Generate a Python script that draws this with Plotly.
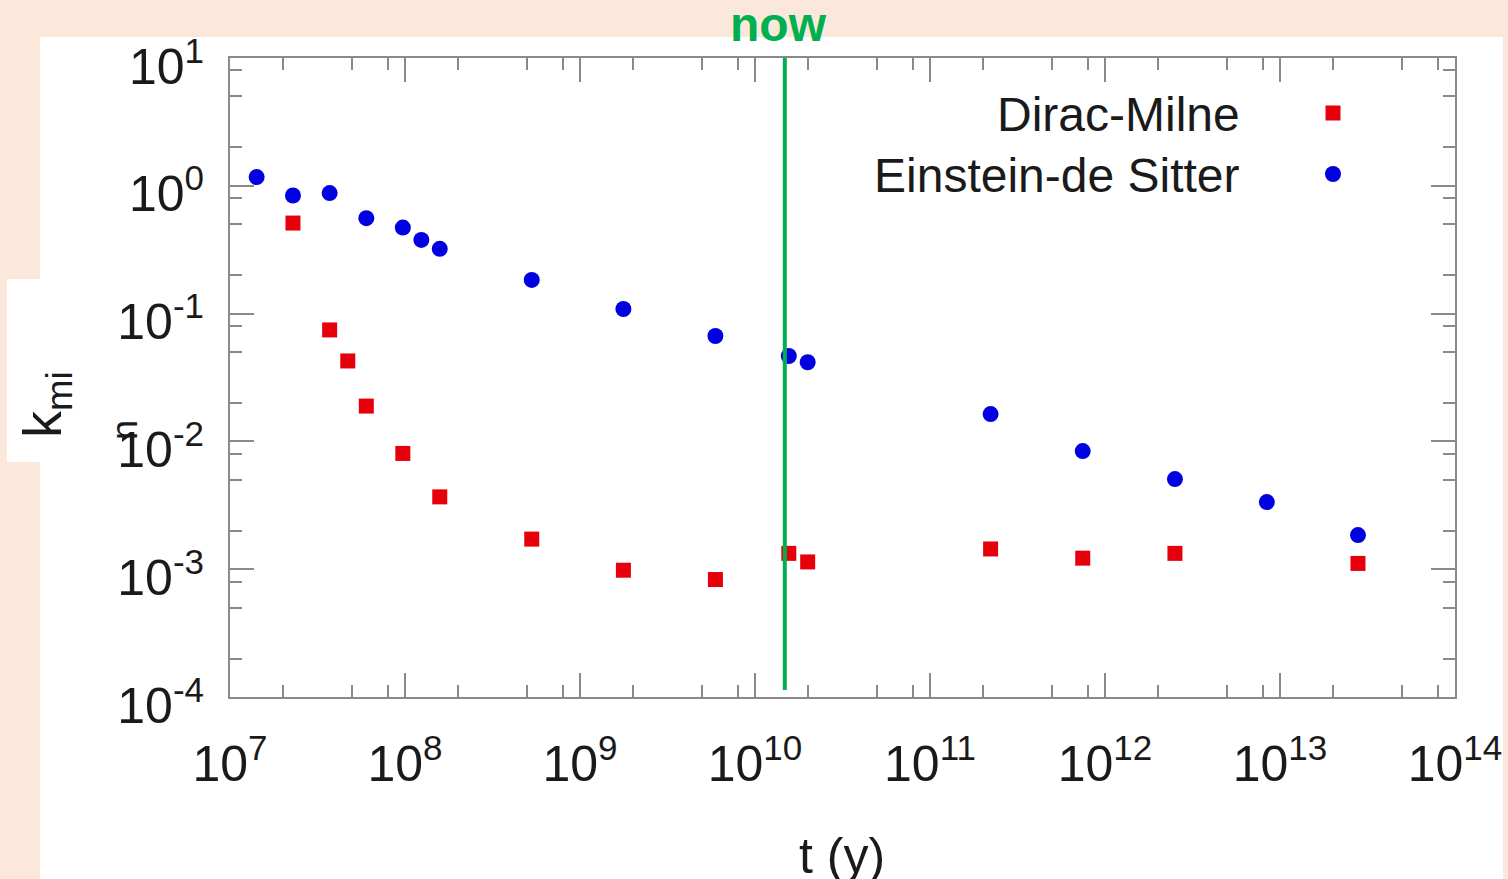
import numpy as np
import plotly.graph_objects as go

# ---------------- data ----------------
eds_t = [1.42e7, 2.29e7, 3.71e7, 6.01e7, 9.72e7, 1.24e8, 1.58e8, 5.30e8, 1.77e9,
         5.94e9, 1.56e10, 2.00e10, 2.22e11, 7.46e11, 2.51e12, 8.41e12, 2.79e13]
eds_k = [1.17, 0.84, 0.877, 0.558, 0.471, 0.377, 0.321, 0.1836, 0.1087,
         0.0668, 0.0466, 0.0416, 0.01637, 0.00840, 0.00507, 0.00335, 0.00185]

dm_t = [2.29e7, 3.71e7, 4.71e7, 6.01e7, 9.72e7, 1.58e8, 5.30e8, 1.77e9,
        5.94e9, 1.56e10, 2.00e10, 2.22e11, 7.46e11, 2.51e12, 2.79e13]
dm_k = [0.511, 0.0745, 0.0426, 0.0189, 0.00805, 0.00368, 0.00172, 0.000982,
        0.000830, 0.00133, 0.00114, 0.00144, 0.00122, 0.00133, 0.00111]

now_t = 1.48e10

x_exponents = [7, 8, 9, 10, 11, 12, 13, 14]
y_exponents = [-4, -3, -2, -1, 0, 1]
minor_mult = [2, 5, 8]

series_names = ["Dirac-Milne", "Einstein-de Sitter"]

# ---------------- styling ----------------
PEACH = "#FCE8DA"
RED = "#E6000B"
BLUE = "#0000E0"
GREEN = "#00B050"
AXIS = "#8a8a8a"
TXT = "#1a1a1a"
FONT = "Liberation Sans, Arial, sans-serif"

x_tickvals = [10.0 ** e for e in x_exponents]
x_ticktext = [f"10<sup>{e}</sup>" for e in x_exponents]
y_tickvals = [10.0 ** e for e in y_exponents]
y_ticktext = [f"10<sup>{e}</sup>" for e in y_exponents]
x_minor = [m * 10.0 ** e for e in x_exponents[:-1] for m in minor_mult]
y_minor = [m * 10.0 ** e for e in y_exponents[:-1] for m in minor_mult]

fig = go.Figure()
fig.add_trace(go.Scatter(x=dm_t, y=dm_k, mode="markers", name=series_names[0],
                         marker=dict(symbol="square", size=15, color=RED,
                                     line=dict(width=0)),
                         showlegend=False))
fig.add_trace(go.Scatter(x=eds_t, y=eds_k, mode="markers", name=series_names[1],
                         marker=dict(symbol="circle", size=16, color=BLUE,
                                     line=dict(width=0)),
                         showlegend=False))

axis_common = dict(type="log", showline=True, linecolor=AXIS, linewidth=2,
                   mirror="ticks", ticks="inside", ticklen=24, tickwidth=2,
                   tickcolor=AXIS, showgrid=False, zeroline=False, automargin=False,
                   tickfont=dict(family=FONT, size=50, color=TXT))

fig.update_xaxes(range=[7, 14], tickvals=x_tickvals, ticktext=x_ticktext,
                 ticklabelstandoff=22,
                 minor=dict(tickvals=x_minor, ticks="inside", ticklen=12,
                            tickwidth=2, tickcolor=AXIS, showgrid=False),
                 **axis_common)
fig.update_yaxes(range=[-4, 1], tickvals=y_tickvals, ticktext=y_ticktext,
                 ticklabelstandoff=14, ticklabelshift=8,
                 minor=dict(tickvals=y_minor, ticks="inside", ticklen=12,
                            tickwidth=2, tickcolor=AXIS, showgrid=False),
                 **axis_common)

W, H = 1508, 879
L, R, T, B = 230, 53, 58, 182
pw, ph = W - L - R, H - T - B


def px(xp):
    return (xp - L) / pw


def py(yp):
    return 1 - (yp - T) / ph


shapes = [
    # white panels on the peach background
    dict(type="rect", xref="paper", yref="paper", x0=px(40), x1=px(1503),
         y0=py(880), y1=py(37), fillcolor="white", line=dict(width=0), layer="below"),
    dict(type="rect", xref="paper", yref="paper", x0=px(7), x1=px(41),
         y0=py(462), y1=py(279), fillcolor="white", line=dict(width=0), layer="below"),
    # "now" line
    dict(type="line", xref="x", yref="paper", x0=now_t, x1=now_t,
         y0=py(690), y1=1, line=dict(color=GREEN, width=4), layer="above"),
    # legend keys
    dict(type="rect", xref="paper", yref="paper", xsizemode="pixel", ysizemode="pixel",
         xanchor=px(1333), yanchor=py(113), x0=-7.5, x1=7.5, y0=-7.5, y1=7.5,
         fillcolor=RED, line=dict(width=0)),
    dict(type="circle", xref="paper", yref="paper", xsizemode="pixel", ysizemode="pixel",
         xanchor=px(1333), yanchor=py(174), x0=-8, x1=8, y0=-8, y1=8,
         fillcolor=BLUE, line=dict(width=0)),
]

annotations = [
    dict(text=series_names[0], xref="paper", yref="paper", x=px(1242), y=py(114),
         xanchor="right", yanchor="middle", showarrow=False,
         font=dict(family=FONT, size=48, color=TXT)),
    dict(text=series_names[1], xref="paper", yref="paper", x=px(1242), y=py(175),
         xanchor="right", yanchor="middle", showarrow=False,
         font=dict(family=FONT, size=48, color=TXT)),
    dict(text="<b>now</b>", xref="x", yref="paper", x=np.log10(now_t), xshift=-6,
         y=py(25), xanchor="center", yanchor="middle", showarrow=False,
         font=dict(family=FONT, size=48, color=GREEN)),
    dict(text="t (y)", xref="paper", yref="paper", x=px(842), y=py(856),
         xanchor="center", yanchor="middle", showarrow=False,
         font=dict(family=FONT, size=50, color=TXT)),
    dict(text="k<sub>mi</sub>", xref="paper", yref="paper", x=px(46), y=py(405),
         xanchor="center", yanchor="middle", textangle=-90, showarrow=False,
         font=dict(family=FONT, size=54, color=TXT)),
    dict(text="n", xref="paper", yref="paper", x=px(124), y=py(430),
         xanchor="center", yanchor="middle", textangle=-90, showarrow=False,
         font=dict(family=FONT, size=36, color=TXT)),
]

fig.update_layout(width=W, height=H, margin=dict(l=L, r=R, t=T, b=B),
                  paper_bgcolor=PEACH, plot_bgcolor="white",
                  shapes=shapes, annotations=annotations, showlegend=False,
                  font=dict(family=FONT, color=TXT))

fig.write_html("out.html")
